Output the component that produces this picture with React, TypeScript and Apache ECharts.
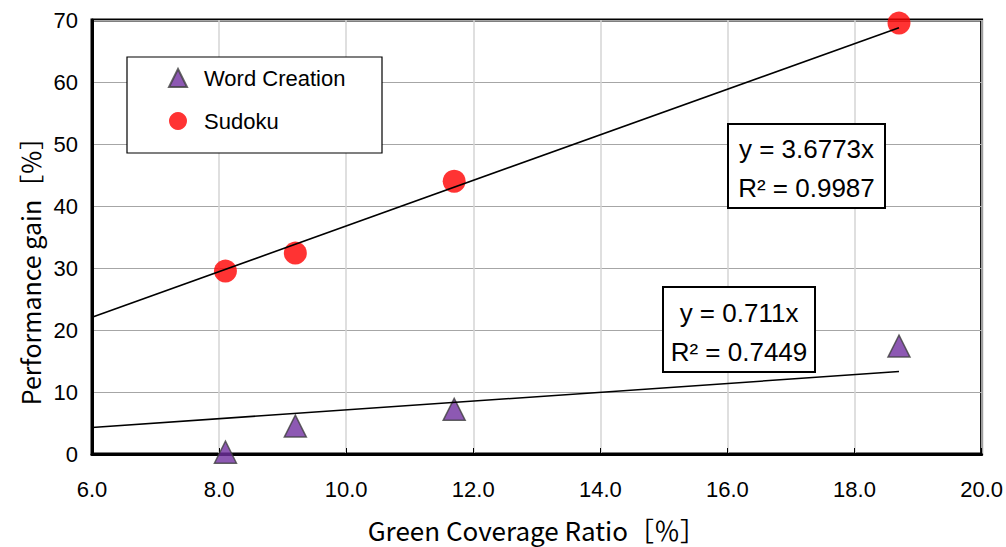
import React, { useEffect, useRef } from "react";
import * as echarts from "echarts";

const wordX = [8.1, 9.2, 11.7, 18.7];
const wordY = [0.3, 4.5, 7.2, 17.4];
const sudokuX = [8.1, 9.2, 11.7, 18.7];
const sudokuY = [29.5, 32.4, 44.0, 69.5];
const sudokuSlope = 3.6773;
const wordSlope = 0.711;
const trendStart = 6;
const trendEnd = 18.7;
const sudokuEq = ["y = 3.6773x", "R² = 0.9987"];
const wordEq = ["y = 0.711x", "R² = 0.7449"];
const xTitle = "Green Coverage Ratio［％］";
const yTitle = "Performance gain［％］";

export default function App() {
  const ref = useRef<HTMLDivElement>(null);
  useEffect(() => {
    document.body.style.margin = "0";
    const chart = echarts.init(ref.current!, null, { renderer: "svg" });
    const tickFont = "Liberation Sans";
    const titleFont = "Noto Sans CJK JP";
    const eqBox = (x: number, y: number, w: number, h: number, lines: string[]) => [
      { type: "rect", z: 50, shape: { x, y, width: w, height: h }, style: { fill: "#fff", stroke: "#000", lineWidth: 2 } },
      { type: "text", z: 51, x: x + w / 2, y: y + h * 0.3, style: { text: lines[0], fill: "#000", fontSize: 26, fontFamily: tickFont, align: "center", verticalAlign: "middle" } },
      { type: "text", z: 51, x: x + w / 2, y: y + h * 0.76, style: { text: lines[1], fill: "#000", fontSize: 26, fontFamily: tickFont, align: "center", verticalAlign: "middle" } },
    ];
    chart.setOption({
      animation: false,
      backgroundColor: "#fff",
      grid: {
        left: 92,
        top: 20,
        width: 891,
        height: 439,
        show: true,
        borderColor: "#000",
        borderWidth: 3,
        containLabel: false,
      },
      legend: {
        show: true,
        orient: "vertical",
        left: 163,
        top: 62,
        itemGap: 21,
        itemWidth: 18,
        itemHeight: 18,
        data: ["Word Creation", "Sudoku"],
        textStyle: { fontSize: 22, fontFamily: tickFont, color: "#000", padding: [0, 0, 0, 12] },
        z: 60,
      },
      xAxis: {
        type: "value",
        min: 6,
        max: 20,
        interval: 2,
        name: xTitle,
        nameLocation: "middle",
        nameGap: 62,
        nameTextStyle: { fontSize: 26, fontFamily: titleFont, color: "#000" },
        axisLine: { show: true, onZero: false, lineStyle: { color: "#000", width: 3 } },
        axisTick: { show: true, inside: true, length: 6, lineStyle: { color: "#000", width: 1 } },
        axisLabel: { fontSize: 22, fontFamily: tickFont, color: "#000", margin: 24, formatter: (v: number) => v.toFixed(1) },
        splitLine: { show: true, lineStyle: { color: "#d4d4d4", width: 1.5 } },
      },
      yAxis: {
        type: "value",
        min: 0,
        max: 70,
        interval: 10,
        axisLine: { show: true, lineStyle: { color: "#000", width: 3 } },
        axisTick: { show: false },
        axisLabel: { fontSize: 22, fontFamily: tickFont, color: "#000", margin: 14 },
        splitLine: { show: true, lineStyle: { color: "#a6a6a6", width: 1 } },
      },
      graphic: [
        {
          type: "text",
          x: 30,
          y: 265,
          rotation: Math.PI / 2,
          style: { text: yTitle, fill: "#000", fontSize: 25, fontFamily: titleFont, align: "center", verticalAlign: "middle" },
        },
        { type: "rect", z: 40, shape: { x: 127, y: 57, width: 255, height: 96 }, style: { fill: "#fff", stroke: "#000", lineWidth: 1.2 } },
        ...eqBox(728, 124, 157, 84, sudokuEq),
        ...eqBox(663, 287, 152, 85, wordEq),
      ],
      series: [
        {
          name: "Word Creation",
          type: "scatter",
          symbol: "triangle",
          symbolSize: 22,
          itemStyle: { color: "#7030A0", borderColor: "#404040", borderWidth: 1.5 },
          data: wordX.map((x, i) => [x, wordY[i]]),
          z: 3,
        },
        {
          name: "Sudoku",
          type: "scatter",
          symbol: "circle",
          symbolSize: 23,
          itemStyle: { color: "#ff0000" },
          data: sudokuX.map((x, i) => [x, sudokuY[i]]),
          z: 3,
        },
        {
          name: "SudokuTrend",
          type: "line",
          symbol: "none",
          lineStyle: { color: "#000", width: 1.6 },
          data: [
            [trendStart, sudokuSlope * trendStart],
            [trendEnd, sudokuSlope * trendEnd],
          ],
          z: 5,
        },
        {
          name: "WordTrend",
          type: "line",
          symbol: "none",
          lineStyle: { color: "#000", width: 1.6 },
          data: [
            [trendStart, wordSlope * trendStart],
            [trendEnd, wordSlope * trendEnd],
          ],
          z: 5,
        },
      ],
    });
    return () => chart.dispose();
  }, []);
  return <div ref={ref} style={{ width: 1006, height: 547 }} />;
}
